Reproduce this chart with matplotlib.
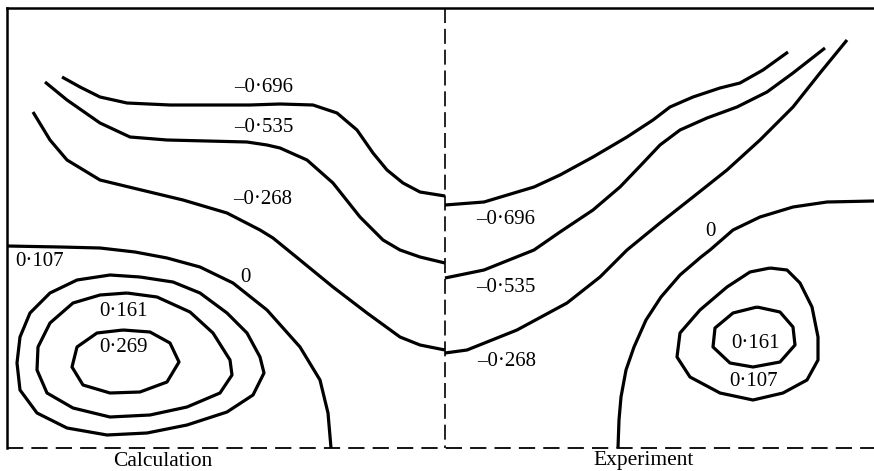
import matplotlib
matplotlib.use("Agg")
import matplotlib.pyplot as plt

plt.rcParams["font.family"] = ["Liberation Serif", "DejaVu Serif"]

# Frame of the section (pixel units, y grows downwards)
frame_left, frame_right = 7, 874
frame_top, frame_bottom = 8, 448
divider_x = 445

# Calculation side: open streamlines
calc_696_x = [62, 80, 100, 127, 170, 250, 280, 313, 337, 357, 373, 387, 403, 420, 445]
calc_696_y = [77, 87, 97, 103, 105, 105, 104, 105, 113, 130, 153, 170, 183, 192, 196]
calc_535_x = [45, 67, 100, 130, 167, 247, 267, 280, 307, 333, 360, 383, 400, 420, 445]
calc_535_y = [82, 100, 123, 137, 140, 142, 145, 148, 160, 183, 217, 240, 250, 257, 263]
calc_268_x = [33, 50, 67, 100, 133, 183, 227, 260, 273, 300, 333, 367, 400, 420, 445]
calc_268_y = [112, 140, 160, 180, 188, 200, 213, 230, 238, 260, 287, 313, 337, 345, 350]
calc_0_x = [7, 60, 100, 135, 167, 200, 233, 267, 300, 320, 328, 331]
calc_0_y = [246, 247, 248, 252, 258, 267, 283, 310, 347, 380, 413, 448]

# Calculation side: closed loops (outer, middle, inner)
calc_out_x = [140, 110, 77, 50, 30, 20, 17, 20, 37, 67, 107, 147, 187, 227, 253, 264, 260,
              247, 227, 200, 173, 140]
calc_out_y = [277, 275, 280, 293, 313, 337, 363, 390, 413, 428, 435, 433, 425, 412, 395, 373,
              357, 333, 313, 293, 282, 277]
calc_mid_x = [127, 100, 73, 50, 38, 37, 47, 73, 110, 150, 187, 220, 232, 230, 213, 190, 157,
              127]
calc_mid_y = [293, 295, 303, 323, 347, 370, 393, 408, 417, 415, 407, 393, 375, 360, 333, 312,
              297, 293]
calc_in_x = [123, 97, 77, 72, 83, 110, 140, 167, 179, 170, 150, 123]
calc_in_y = [330, 333, 347, 367, 385, 393, 392, 382, 362, 343, 332, 330]

# Experiment side: open streamlines
exp_696_x = [445, 484, 534, 560, 593, 627, 653, 670, 693, 720, 740, 763, 788]
exp_696_y = [205, 202, 187, 175, 157, 137, 120, 107, 97, 88, 83, 70, 52]
exp_535_x = [445, 484, 534, 560, 593, 620, 643, 660, 680, 707, 737, 767, 793, 825]
exp_535_y = [278, 270, 250, 232, 210, 187, 163, 145, 130, 118, 107, 92, 73, 48]
exp_268_x = [445, 467, 517, 567, 600, 627, 660, 693, 727, 760, 793, 820, 847]
exp_268_y = [353, 350, 330, 303, 277, 250, 223, 197, 170, 140, 107, 73, 40]
exp_0_x = [618, 619, 621, 626, 634, 646, 661, 680, 701, 710, 733, 760, 793, 827, 874]
exp_0_y = [448, 420, 397, 370, 347, 320, 297, 275, 257, 250, 230, 217, 207, 202, 201]

# Experiment side: closed loops (outer, inner)
exp_out_x = [770, 750, 727, 700, 680, 677, 690, 720, 753, 783, 807, 818, 818, 812, 800, 787,
             770]
exp_out_y = [268, 272, 287, 310, 333, 357, 377, 393, 400, 393, 380, 360, 337, 307, 283, 270,
             268]
exp_in_x = [757, 733, 715, 713, 730, 753, 780, 795, 793, 780, 757]
exp_in_y = [307, 313, 328, 347, 363, 367, 362, 345, 327, 312, 307]

# Contour labels: text, x, y
label_text = ["–0·696", "–0·535", "–0·268", "0·107", "0", "0·161", "0·269",
              "–0·696", "–0·535", "–0·268", "0", "0·161", "0·107"]
label_x = [264, 264, 263, 40, 245, 123, 123, 506, 506, 507, 710, 756, 754]
label_y = [88, 127, 200, 262, 277, 312, 347, 220, 287, 362, 231, 343, 382]

panel_names = ["Calculation", "Experiment"]
panel_x = [163, 644]
panel_y = [461, 460]

fig = plt.figure(figsize=(8.74, 4.71), dpi=100)
ax = fig.add_axes([0, 0, 1, 1])
ax.set_xlim(0, 874)
ax.set_ylim(471, 0)
ax.axis("off")

lw = 2.3
curves = [
    (calc_696_x, calc_696_y), (calc_535_x, calc_535_y), (calc_268_x, calc_268_y),
    (calc_0_x, calc_0_y), (calc_out_x, calc_out_y), (calc_mid_x, calc_mid_y),
    (calc_in_x, calc_in_y), (exp_696_x, exp_696_y), (exp_535_x, exp_535_y),
    (exp_268_x, exp_268_y), (exp_0_x, exp_0_y), (exp_out_x, exp_out_y),
    (exp_in_x, exp_in_y),
]
for xs, ys in curves:
    ax.plot(xs, ys, color="black", lw=lw, solid_joinstyle="round", solid_capstyle="butt")

# solid walls
ax.plot([frame_left, frame_right], [frame_top, frame_top], color="black", lw=1.8)
ax.plot([frame_left, frame_left], [frame_top, frame_bottom], color="black", lw=1.8)
# dashed symmetry line and floor
ax.plot([divider_x, divider_x], [frame_top, frame_bottom], color="black", lw=1.2,
        dashes=(9, 3.5))
ax.plot([frame_left, frame_right], [frame_bottom, frame_bottom], color="black", lw=1.3,
        dashes=(9, 4.5))

for t, x, y in zip(label_text, label_x, label_y):
    ax.text(x, y, t, fontsize=15, ha="center", va="center")
for t, x, y in zip(panel_names, panel_x, panel_y):
    ax.text(x, y, t, fontsize=15.5, ha="center", va="center")

fig.savefig("out.png", dpi=100)
